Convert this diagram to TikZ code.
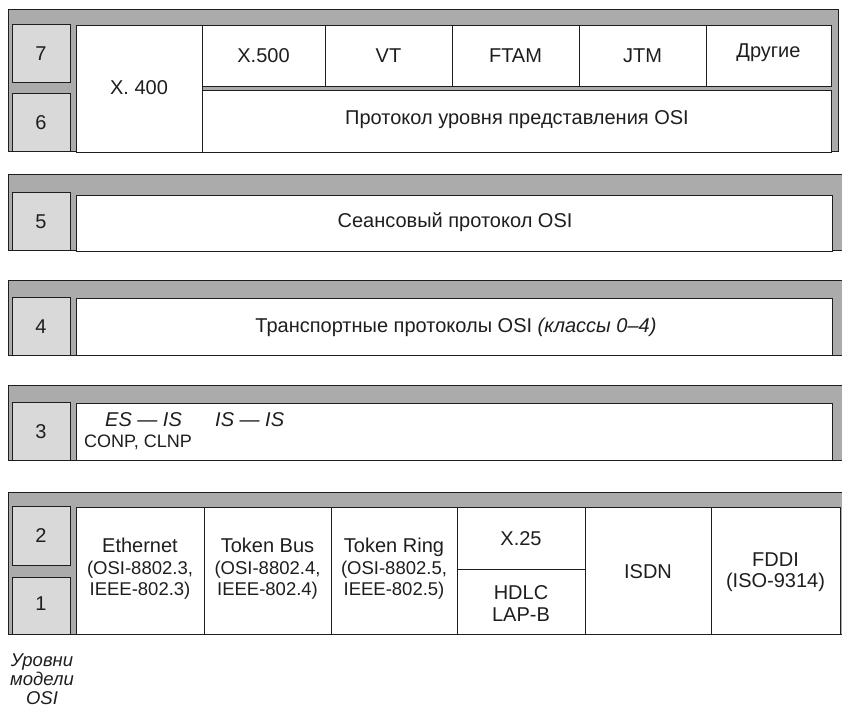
\documentclass[tikz,border=0pt]{standalone}
\usepackage{fontspec}
\setmainfont{Liberation Sans}
\definecolor{bandgray}{HTML}{ABABAB}
\definecolor{boxgray}{HTML}{D9D9D9}
\definecolor{ink}{HTML}{1E1E1E}
\newcommand{\parline}[1]{{\fontsize{18.5}{21.5}\selectfont #1}}
\begin{document}
\begin{tikzpicture}[x=1pt,y=-1pt,
  band/.style={fill=bandgray, draw=ink, line width=1pt},
  numbox/.style={fill=boxgray, draw=ink, line width=1pt},
  cell/.style={fill=white, draw=ink, line width=0.9pt},
  txt/.style={font=\fontsize{20}{21.5}\selectfont, text=ink, align=center, inner sep=0pt},
  captxt/.style={font=\fontsize{18.5}{19}\selectfont\itshape, text=ink, align=center, inner sep=0pt}]
\useasboundingbox (0,0) rectangle (842,708);

% ---- Band 7/6
\draw[band] (8,10) rectangle (838,152);
\draw[numbox] (12,25) rectangle (70,83);
\draw[numbox] (12,94) rectangle (70,152);
\draw[cell] (76,25) rectangle (202,152);
\foreach \a/\b in {202/325,325/452,452/579,579/706,706/831}
  \draw[cell] (\a,25) rectangle (\b,86);
\draw[cell] (202,90) rectangle (831,152);
\node[txt] (n7) at (41,54) {7};
\node[txt] (n6) at (41,123) {6};
\node[txt] (x400) at (139,88) {X. 400};
\node[txt] (x500) at (263.5,56) {X.500};
\node[txt] (vt) at (388.5,56) {VT};
\node[txt] (ftam) at (515.5,56) {FTAM};
\node[txt] (jtm) at (642.5,56) {JTM};
\node[txt] (other) at (768.5,53) {Другие};
\node[txt] (pres) at (517,120) {Протокол уровня представления OSI};

% ---- Band 5
\draw[band] (8,175) rectangle (842,251);
\draw[numbox] (12,193) rectangle (70,251);
\draw[cell] (76,195) rectangle (832,251);
\node[txt] (n5) at (41,222) {5};
\node[txt] (sess) at (455,222) {Сеансовый протокол OSI};

% ---- Band 4
\draw[band] (8,280) rectangle (842,355);
\draw[numbox] (12,297) rectangle (70,355);
\draw[cell] (76,298) rectangle (832,355);
\node[txt] (n4) at (41,327) {4};
\node[txt] (trans) at (456,327) {Транспортные протоколы OSI \textit{(классы 0–4)}};

% ---- Band 3
\draw[band] (8,385) rectangle (842,460);
\draw[numbox] (12,402) rectangle (70,460);
\draw[cell] (76,403) rectangle (832,460);
\node[txt] (n3) at (41,432) {3};
\node[txt, anchor=west] (esis) at (105,420) {\textit{ES — IS}};
\node[txt, anchor=west] (isis) at (215,420) {\textit{IS — IS}};
\node[txt, anchor=west, font=\fontsize{18}{21.5}\selectfont] (conp) at (84,442) {CONP, CLNP};

% ---- Band 2/1
\draw[band] (8,492) rectangle (842,634);
\draw[numbox] (12,506) rectangle (70,565);
\draw[numbox] (12,577) rectangle (70,634);
\foreach \a/\b in {76/204,204/331,331/457,457/585,585/711,711/840}
  \draw[cell] (\a,507) rectangle (\b,634);
\draw[ink, line width=0.9pt] (457,569) -- (585,569);
\node[txt] (n2) at (41,536) {2};
\node[txt] (n1) at (41,604) {1};
\node[txt] (eth) at (140,569) {Ethernet\\\parline{(OSI-8802.3,}\\\parline{IEEE-802.3)}};
\node[txt] (tbus) at (267.5,569) {Token Bus\\\parline{(OSI-8802.4,}\\\parline{IEEE-802.4)}};
\node[txt] (tring) at (394,569) {Token Ring\\\parline{(OSI-8802.5,}\\\parline{IEEE-802.5)}};
\node[txt] (x25) at (521,539) {X.25};
\node[txt] (hdlc) at (521,603.5) {HDLC\\LAP-B};
\node[txt] (isdn) at (648,572) {ISDN};
\node[txt] (fddi) at (775.5,572) {FDDI\\(ISO-9314)};

% ---- caption
\node[captxt] (cap) at (42,679) {Уровни\\модели\\OSI};
\end{tikzpicture}
\end{document}
